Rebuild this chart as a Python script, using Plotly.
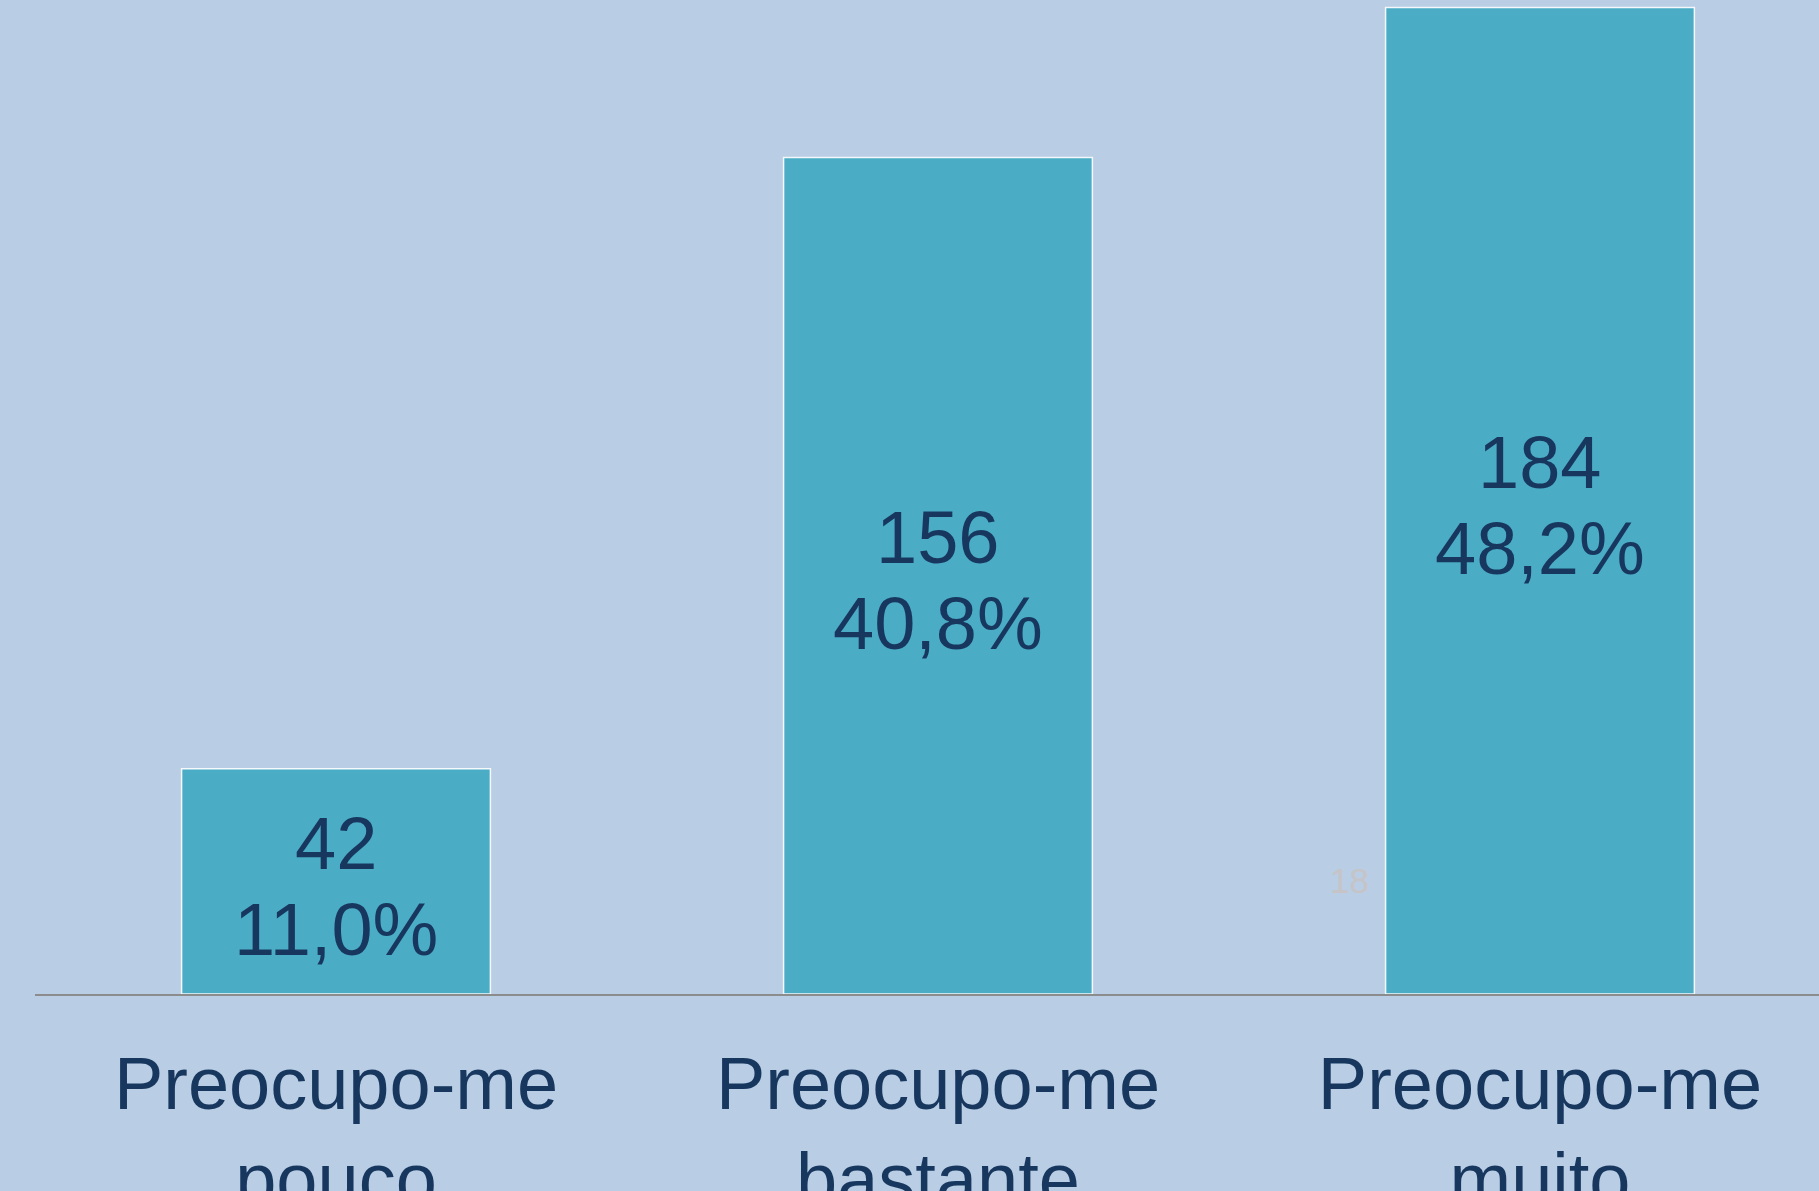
import plotly.graph_objects as go

categories = ["Preocupo-me<br>pouco", "Preocupo-me<br>bastante", "Preocupo-me<br>muito"]
counts = [42, 156, 184]
percents = ["11,0%", "40,8%", "48,2%"]
slide_number = "18"

W, H = 1819, 1191
BG = "#B9CDE5"
BAR = "#4BACC6"
NAVY = "#17375E"
FONT = "Liberation Sans, Arial, sans-serif"
AXIS_Y = 994

fig = go.Figure()
fig.add_trace(go.Bar(
    x=[0, 1, 2],
    y=counts,
    width=0.513,
    marker=dict(color=BAR, line=dict(color="#F4F8FB", width=1.5)),
    hoverinfo="skip",
))

# value labels: two lines, centred in each bar
for i, (c, p) in enumerate(zip(counts, percents)):
    fig.add_annotation(x=i, y=c / 2, xref="x", yref="y", text=str(c),
                       showarrow=False, yanchor="middle", yshift=38,
                       font=dict(family=FONT, size=74, color=NAVY))
    fig.add_annotation(x=i, y=c / 2, xref="x", yref="y", text=p,
                       showarrow=False, yanchor="middle", yshift=-48,
                       font=dict(family=FONT, size=74, color=NAVY))

fig.add_annotation(
    x=1.684, y=21.2, xref="x", yref="y",
    text=slide_number, showarrow=False,
    font=dict(family=FONT, size=35, color="#C6C4C6"),
)

fig.update_layout(
    width=W, height=H,
    paper_bgcolor=BG, plot_bgcolor=BG,
    margin=dict(l=35, r=0, t=0, b=H - AXIS_Y, pad=0),
    showlegend=False,
    font=dict(family=FONT, color=NAVY),
)
fig.update_xaxes(
    range=[-0.5, 2.4635],
    tickmode="array", tickvals=[0, 1, 2], ticktext=categories,
    tickfont=dict(family=FONT, size=74, color=NAVY),
    showline=True, linecolor="#8C8C8C", linewidth=2,
    showgrid=False, zeroline=False, ticks="",
    ticklabelstandoff=24, automargin=False,
)
fig.update_yaxes(
    range=[0, 185.4], visible=False, showgrid=False, zeroline=False,
    automargin=False,
)

fig.write_html(
    "out.html",
    config={"displayModeBar": False},
    post_script="document.body.style.margin='0px';document.body.style.overflow='hidden';",
)
